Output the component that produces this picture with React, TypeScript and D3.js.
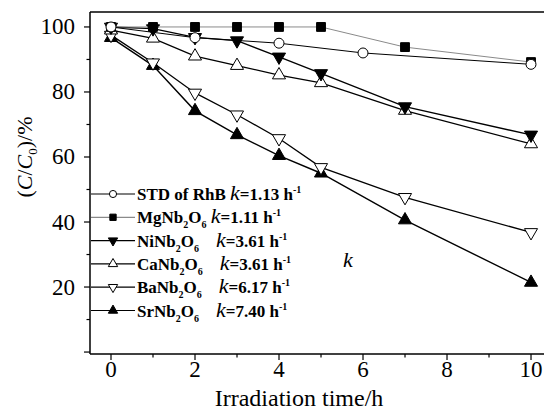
import React from "react";
import * as d3 from "d3";

const times = [0, 1, 2, 3, 4, 5, 7, 10];
const stdTimes = [0, 2, 4, 6, 10];
const stdValues = [100, 96.7, 95, 92, 88.5];
const mgValues = [100, 100, 100, 100, 100, 100, 93.8, 89.2];
const niValues = [100, 99.5, 96.8, 95.8, 90.8, 85.7, 75.5, 66.8];
const caValues = [99, 96.5, 91, 88.1, 85.2, 82.8, 74.3, 64];
const baValues = [97.5, 89, 79.7, 73, 65.7, 56.8, 47.6, 36.8];
const srValues = [96.7, 88.1, 74.2, 66.8, 60.4, 55, 40.6, 21.4];

const seriesNames = ["STD of RhB ", "MgNb2O6 ", "NiNb2O6    ", "CaNb2O6    ", "BaNb2O6    ", "SrNb2O6    "];
const kValues = ["1.13", "1.11", "3.61", "3.61", "6.17", "7.40"];
const markerKinds = ["circle-open", "square-filled", "tridown-filled", "triup-open", "tridown-open", "triup-filled"];
const lineColors = ["#000", "#8a8a8a", "#000", "#000", "#000", "#000"];
const xTicks = [0, 2, 4, 6, 8, 10];
const xMinor = [1, 3, 5, 7, 9];
const yTicks = [0, 20, 40, 60, 80, 100];
const yMinor = [10, 30, 50, 70, 90];

const FONT = "'Liberation Serif', 'Times New Roman', serif";

function markerPath(kind: string, size: number) {
  let type = d3.symbolCircle;
  let s = size;
  if (kind.startsWith("square")) { type = d3.symbolSquare; s = size * 1.0; }
  if (kind.startsWith("tri")) { type = d3.symbolTriangle; s = size * 0.95; }
  return d3.symbol().type(type).size(s)() as string;
}

function Marker({ kind, x, y, size }: { kind: string; x: number; y: number; size: number }) {
  const filled = kind.endsWith("filled");
  const rot = kind.startsWith("tridown") ? 180 : 0;
  return (
    <path
      d={markerPath(kind, size)}
      transform={`translate(${x},${y}) rotate(${rot})`}
      fill={filled ? "#000" : "#fff"}
      stroke="#000"
      strokeWidth={1}
    />
  );
}

function formulaSegments(name: string) {
  const parts: { t: string; sub: boolean }[] = [];
  const re = /(\d+)|([^\d]+)/g;
  let m;
  while ((m = re.exec(name)) !== null) {
    if (m[1]) parts.push({ t: m[1], sub: true });
    else parts.push({ t: m[2], sub: false });
  }
  return parts;
}

export default function App() {
  const W = 544, H = 410;
  const left = 90, right = 545, top = 12, bottom = 354;
  const x = d3.scaleLinear().domain([-0.5, 10.333]).range([left, right]);
  const y = d3.scaleLinear().domain([-0.6, 104.6]).range([bottom, top]);

  const seriesX = [stdTimes, times, times, times, times, times];
  const seriesY = [stdValues, mgValues, niValues, caValues, baValues, srValues];
  const lineW = [1, 1, 1.4, 1.3, 1.3, 1.4];

  const line = d3.line<[number, number]>().x((d) => x(d[0])).y((d) => y(d[1]));
  const order = [5, 4, 3, 2, 1, 0];

  const legendX0 = 91, legendX1 = 135, legendTextX = 137;
  const legendY0 = 194, legendDy = 23.3;

  return (
    <svg width={W} height={H} style={{ display: "block", position: "absolute", left: 0, top: 0 }} fontFamily={FONT}>
      <rect x={0} y={0} width={W} height={H} fill="#fff" />
      {/* series */}
      {order.map((i) => {
        const pts = seriesX[i].map((t, j) => [t, seriesY[i][j]] as [number, number]);
        return (
          <g key={i}>
            <path d={line(pts) as string} fill="none" stroke={lineColors[i]} strokeWidth={lineW[i]} />
            {pts.map((p, j) => (
              <Marker key={j} kind={markerKinds[i]} x={x(p[0])} y={y(p[1])} size={78} />
            ))}
          </g>
        );
      })}
      {/* frame */}
      <line x1={left} x2={left} y1={top} y2={bottom} stroke="#000" strokeWidth={1.5} />
      <line x1={left} x2={right} y1={bottom} y2={bottom} stroke="#000" strokeWidth={1.5} />
      <line x1={left} x2={right} y1={top} y2={top} stroke="#000" strokeWidth={1.5} />
      {/* x ticks */}
      {xTicks.map((t) => (
        <g key={"xt" + t}>
          <line x1={x(t)} x2={x(t)} y1={bottom} y2={bottom + 6} stroke="#000" strokeWidth={1.2} />
          <text x={x(t)} y={377} textAnchor="middle" fontSize={23}>{t}</text>
        </g>
      ))}
      {xMinor.map((t) => (
        <line key={"xm" + t} x1={x(t)} x2={x(t)} y1={bottom} y2={bottom + 3.5} stroke="#000" strokeWidth={1.2} />
      ))}
      {/* y ticks */}
      {yTicks.map((t) => (
        <g key={"yt" + t}>
          <line x1={left - 6} x2={left} y1={y(t)} y2={y(t)} stroke="#000" strokeWidth={1.2} />
          {t > 0 && (
            <text x={75} y={y(t) + 7.5} textAnchor="end" fontSize={23}>{t}</text>
          )}
        </g>
      ))}
      {yMinor.map((t) => (
        <line key={"ym" + t} x1={left - 3.5} x2={left} y1={y(t)} y2={y(t)} stroke="#000" strokeWidth={1.2} />
      ))}
      {/* axis titles */}
      <text x={299} y={406} textAnchor="middle" fontSize={24}>Irradiation time/h</text>
      <text transform={`translate(32,157) rotate(-90)`} textAnchor="middle" fontSize={22}>
        (<tspan fontStyle="italic">C</tspan>/<tspan fontStyle="italic">C</tspan>
        <tspan fontSize={13} dy={5}>0</tspan>
        <tspan dy={-5}>)/%</tspan>
      </text>
      {/* legend */}
      {seriesNames.map((name, i) => {
        const cy = legendY0 + i * legendDy;
        const segs = formulaSegments(name);
        return (
          <g key={"lg" + i}>
            <line x1={legendX0} x2={legendX1} y1={cy} y2={cy} stroke={lineColors[i]} strokeWidth={1.2} />
            <Marker kind={markerKinds[i]} x={(legendX0 + legendX1) / 2} y={cy} size={40} />
            <text x={legendTextX} y={cy + 6} fontSize={17} fontWeight="bold" style={{ whiteSpace: "pre" }}>
              {segs.map((s, j) =>
                s.sub ? (
                  <tspan key={j} fontSize={10} dy={5}>{s.t}</tspan>
                ) : (
                  <tspan key={j} dy={j > 0 && segs[j - 1].sub ? -5 : 0}>{s.t}</tspan>
                )
              )}
              <tspan fontStyle="italic" fontWeight="normal" fontSize={22} dy={segs[segs.length - 1].sub ? -5 : 0}>k</tspan>
              <tspan>{`=${kValues[i]} h`}</tspan>
              <tspan fontSize={10} dy={-7}>-1</tspan>
            </text>
          </g>
        );
      })}
      <text x={343} y={267} fontSize={22} fontStyle="italic">k</text>
    </svg>
  );
}
